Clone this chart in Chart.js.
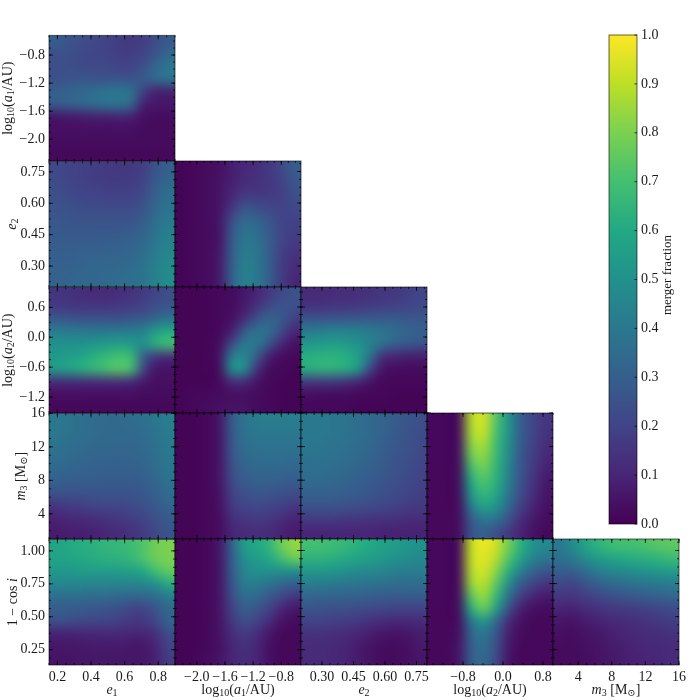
<!DOCTYPE html>
<html>
<head>
<meta charset="utf-8">
<style>
  html, body { margin: 0; padding: 0; background: #fff; }
  #fig { position: relative; width: 700px; height: 700px; overflow: hidden; }
  #fig canvas { position: absolute; }
</style>
<script src="https://cdn.jsdelivr.net/npm/chart.js@4/dist/chart.umd.min.js"></script>
</head>
<body>
<div id="fig"></div>
<script>
// tick values and labels for every parameter
const ticksE1 = [0.2, 0.4, 0.6, 0.8];
const labelsE1 = ['0.2', '0.4', '0.6', '0.8'];
const ticksA1 = [-2.0, -1.6, -1.2, -0.8];
const labelsA1 = ['−2.0', '−1.6', '−1.2', '−0.8'];
const ticksE2 = [0.30, 0.45, 0.60, 0.75];
const labelsE2 = ['0.30', '0.45', '0.60', '0.75'];
const ticksA2x = [-0.8, 0.0, 0.8];
const labelsA2x = ['−0.8', '0.0', '0.8'];
const ticksA2y = [-1.2, -0.6, 0.0, 0.6];
const labelsA2y = ['−1.2', '−0.6', '0.0', '0.6'];
const ticksM3 = [4, 8, 12, 16];
const labelsM3 = ['4', '8', '12', '16'];
const ticksCos = [0.25, 0.50, 0.75, 1.00];
const labelsCos = ['0.25', '0.50', '0.75', '1.00'];
const ticksBar = [0, 0.1, 0.2, 0.3, 0.4, 0.5, 0.6, 0.7, 0.8, 0.9, 1.0];
const labelsBar = ['0.0', '0.1', '0.2', '0.3', '0.4', '0.5', '0.6', '0.7', '0.8', '0.9', '1.0'];

// merger fraction per panel, rows go top to bottom, named y_x
const a1_e1 = [
  [.30,.26,.24,.22,.20,.18,.16,.18,.24,.28],
  [.24,.24,.22,.20,.20,.18,.18,.20,.26,.33],
  [.24,.24,.23,.22,.22,.20,.20,.24,.34,.40],
  [.24,.25,.26,.26,.26,.26,.26,.28,.34,.38],
  [.30,.32,.34,.36,.38,.40,.38,.18,.08,.08],
  [.28,.30,.32,.35,.37,.38,.34,.08,.06,.06],
  [.05,.06,.07,.08,.08,.09,.08,.04,.03,.03],
  [.04,.04,.04,.04,.04,.04,.04,.03,.03,.03],
  [.03,.03,.03,.03,.03,.03,.03,.03,.03,.03],
  [.02,.02,.02,.02,.02,.02,.02,.02,.02,.02]
];
const e2_e1 = [
  [.22,.20,.19,.18,.17,.16,.16,.18,.26,.30],
  [.23,.20,.19,.18,.17,.17,.17,.20,.28,.33],
  [.24,.22,.20,.20,.19,.19,.19,.22,.31,.36],
  [.25,.24,.23,.22,.22,.21,.22,.25,.33,.38],
  [.27,.26,.25,.25,.25,.25,.25,.28,.36,.40],
  [.28,.27,.27,.27,.27,.27,.28,.31,.38,.43],
  [.29,.29,.29,.29,.30,.30,.31,.34,.40,.44],
  [.30,.30,.31,.31,.32,.32,.33,.36,.42,.46],
  [.31,.31,.32,.33,.33,.34,.35,.38,.43,.48],
  [.31,.32,.33,.33,.34,.35,.36,.38,.44,.48]
];
const e2_a1 = [
  [.01,.02,.03,.04,.08,.11,.13,.16,.22,.30],
  [.01,.02,.03,.05,.08,.12,.14,.16,.20,.27],
  [.01,.02,.03,.05,.10,.15,.15,.16,.19,.25],
  [.01,.02,.03,.05,.14,.24,.22,.20,.19,.22],
  [.01,.02,.03,.05,.22,.33,.30,.25,.20,.20],
  [.01,.02,.03,.05,.26,.38,.35,.28,.20,.18],
  [.01,.02,.03,.05,.28,.40,.38,.29,.20,.16],
  [.01,.02,.03,.06,.29,.42,.39,.29,.18,.14],
  [.01,.02,.03,.06,.30,.43,.40,.29,.17,.12],
  [.01,.02,.03,.06,.30,.43,.40,.29,.17,.10]
];
const a2_e1 = [
  [.15,.14,.13,.12,.12,.13,.14,.17,.20,.24],
  [.17,.16,.15,.15,.15,.16,.17,.20,.24,.26],
  [.27,.26,.25,.25,.25,.25,.26,.28,.33,.38],
  [.42,.41,.41,.40,.40,.41,.42,.44,.55,.60],
  [.50,.50,.50,.52,.54,.56,.54,.50,.64,.70],
  [.52,.55,.58,.62,.66,.70,.68,.28,.15,.12],
  [.55,.58,.62,.66,.70,.74,.70,.20,.05,.05],
  [.12,.12,.12,.12,.12,.12,.11,.06,.04,.04],
  [.04,.04,.04,.04,.04,.04,.04,.03,.03,.03],
  [.02,.02,.02,.02,.02,.02,.02,.02,.02,.02]
];
const a2_a1 = [
  [.01,.01,.01,.02,.03,.06,.10,.16,.22,.25],
  [.01,.01,.01,.02,.03,.07,.14,.22,.26,.24],
  [.01,.01,.01,.02,.04,.12,.24,.32,.28,.18],
  [.01,.01,.01,.02,.08,.28,.38,.36,.22,.10],
  [.01,.01,.01,.03,.22,.40,.40,.25,.10,.04],
  [.01,.01,.01,.04,.42,.46,.28,.08,.03,.02],
  [.01,.01,.01,.03,.50,.50,.14,.03,.02,.01],
  [.01,.01,.01,.02,.12,.12,.05,.02,.01,.01],
  [.01,.02,.02,.03,.04,.04,.03,.02,.01,.01],
  [.01,.02,.03,.04,.05,.05,.03,.02,.01,.01]
];
const a2_e2 = [
  [.12,.12,.12,.13,.13,.14,.15,.16,.18,.21],
  [.14,.14,.15,.15,.16,.17,.18,.19,.20,.22],
  [.26,.26,.26,.27,.27,.28,.28,.28,.27,.27],
  [.40,.42,.44,.44,.43,.41,.38,.35,.32,.30],
  [.52,.54,.55,.54,.50,.44,.38,.30,.28,.26],
  [.62,.64,.64,.62,.56,.38,.12,.10,.08,.08],
  [.62,.64,.64,.62,.54,.20,.05,.03,.03,.03],
  [.16,.16,.16,.14,.10,.05,.02,.02,.02,.02],
  [.04,.03,.03,.03,.02,.02,.02,.01,.01,.01],
  [.02,.02,.02,.02,.01,.01,.01,.01,.01,.01]
];
const m3_e1 = [
  [.40,.38,.36,.35,.34,.34,.35,.36,.40,.42],
  [.40,.38,.36,.35,.34,.34,.34,.35,.38,.42],
  [.38,.36,.35,.34,.33,.33,.33,.34,.37,.41],
  [.36,.35,.33,.32,.32,.32,.32,.33,.36,.40],
  [.33,.32,.31,.31,.30,.30,.30,.31,.35,.39],
  [.30,.29,.29,.28,.28,.28,.28,.29,.32,.37],
  [.24,.24,.24,.25,.25,.25,.25,.27,.30,.35],
  [.14,.16,.17,.19,.20,.20,.21,.24,.27,.31],
  [.09,.10,.11,.12,.14,.15,.17,.20,.24,.28],
  [.07,.08,.08,.09,.10,.12,.14,.17,.22,.26]
];
const m3_a1 = [
  [.01,.01,.02,.05,.28,.38,.42,.42,.42,.42],
  [.01,.01,.02,.05,.28,.37,.40,.40,.40,.40],
  [.01,.01,.02,.05,.27,.36,.38,.38,.38,.38],
  [.01,.01,.02,.05,.26,.34,.35,.36,.36,.35],
  [.01,.01,.02,.05,.24,.31,.33,.33,.33,.32],
  [.01,.01,.02,.05,.22,.28,.30,.30,.29,.28],
  [.01,.01,.02,.04,.19,.24,.26,.25,.24,.22],
  [.01,.01,.02,.04,.16,.20,.21,.20,.18,.15],
  [.01,.01,.02,.03,.12,.15,.16,.15,.12,.09],
  [.01,.01,.02,.03,.10,.12,.13,.12,.09,.07]
];
const m3_e2 = [
  [.40,.40,.39,.38,.36,.34,.31,.29,.26,.24],
  [.40,.40,.39,.38,.36,.34,.31,.28,.25,.23],
  [.39,.39,.38,.37,.35,.33,.30,.27,.25,.22],
  [.38,.38,.37,.36,.34,.32,.29,.26,.24,.21],
  [.36,.36,.35,.34,.32,.30,.28,.25,.23,.20],
  [.34,.34,.33,.32,.30,.28,.26,.24,.22,.19],
  [.30,.30,.30,.29,.28,.26,.24,.22,.20,.18],
  [.25,.25,.25,.24,.23,.22,.20,.19,.17,.16],
  [.16,.16,.16,.15,.15,.14,.14,.13,.12,.12],
  [.10,.10,.10,.10,.10,.10,.09,.09,.09,.09]
];
const m3_a2 = [
  [.02,.02,.03,.88,.94,.72,.50,.28,.20,.15],
  [.02,.02,.03,.86,.92,.70,.50,.28,.20,.14],
  [.02,.02,.03,.82,.87,.68,.48,.27,.19,.12],
  [.02,.02,.03,.76,.83,.66,.46,.26,.17,.10],
  [.02,.02,.03,.68,.78,.64,.44,.25,.16,.08],
  [.02,.02,.03,.60,.72,.62,.42,.24,.14,.06],
  [.02,.02,.03,.52,.66,.58,.38,.22,.12,.05],
  [.02,.02,.03,.40,.56,.50,.32,.18,.09,.04],
  [.02,.02,.03,.28,.38,.36,.24,.12,.06,.03],
  [.02,.02,.03,.26,.30,.24,.16,.09,.04,.02]
];
const cos_e1 = [
  [.58,.60,.62,.63,.65,.66,.68,.72,.78,.80],
  [.58,.58,.60,.62,.63,.64,.66,.72,.78,.80],
  [.53,.53,.54,.55,.55,.55,.56,.60,.70,.76],
  [.47,.46,.46,.45,.45,.45,.45,.46,.50,.62],
  [.36,.36,.36,.35,.35,.34,.33,.33,.36,.42],
  [.29,.29,.28,.27,.26,.24,.20,.20,.26,.34],
  [.25,.24,.22,.21,.20,.19,.16,.16,.22,.32],
  [.09,.09,.10,.10,.11,.11,.10,.10,.14,.24],
  [.06,.06,.06,.07,.07,.07,.06,.06,.10,.20],
  [.05,.05,.06,.06,.06,.06,.06,.06,.09,.18]
];
const cos_a1 = [
  [.01,.01,.02,.05,.30,.55,.60,.65,.78,.84],
  [.01,.01,.02,.05,.29,.50,.55,.60,.70,.78],
  [.01,.01,.02,.05,.28,.46,.50,.50,.50,.50],
  [.01,.01,.02,.05,.26,.42,.42,.38,.34,.30],
  [.01,.01,.02,.05,.23,.36,.34,.28,.22,.16],
  [.01,.01,.02,.05,.19,.30,.26,.20,.10,.06],
  [.01,.01,.02,.05,.16,.24,.20,.12,.05,.03],
  [.01,.01,.02,.05,.12,.17,.13,.06,.02,.02],
  [.01,.01,.02,.04,.10,.14,.10,.04,.02,.02],
  [.01,.01,.03,.05,.10,.13,.10,.04,.02,.02]
];
const cos_e2 = [
  [.70,.70,.68,.66,.63,.60,.57,.55,.52,.50],
  [.64,.64,.63,.61,.58,.56,.53,.50,.48,.47],
  [.53,.53,.52,.50,.48,.47,.45,.43,.42,.42],
  [.42,.42,.41,.40,.39,.38,.37,.36,.36,.36],
  [.33,.32,.32,.31,.31,.30,.29,.28,.28,.28],
  [.26,.25,.24,.24,.23,.22,.21,.20,.20,.20],
  [.20,.20,.19,.18,.16,.14,.12,.11,.11,.12],
  [.14,.14,.13,.12,.10,.08,.06,.05,.06,.08],
  [.12,.12,.11,.10,.07,.05,.03,.03,.04,.07],
  [.12,.12,.11,.10,.07,.05,.03,.03,.04,.06]
];
const cos_a2 = [
  [.02,.02,.03,.90,.98,.92,.78,.62,.50,.46],
  [.02,.02,.03,.90,.96,.88,.72,.56,.44,.40],
  [.02,.02,.03,.88,.94,.82,.62,.42,.32,.26],
  [.02,.02,.03,.84,.90,.74,.48,.28,.20,.15],
  [.02,.02,.03,.74,.85,.66,.36,.18,.10,.07],
  [.02,.02,.03,.62,.78,.55,.24,.08,.04,.03],
  [.02,.02,.03,.40,.52,.34,.12,.04,.02,.02],
  [.02,.02,.04,.32,.40,.26,.08,.03,.02,.02],
  [.02,.02,.05,.30,.36,.24,.06,.02,.02,.02],
  [.02,.02,.05,.30,.34,.22,.05,.02,.02,.02]
];
const cos_m3 = [
  [.40,.48,.58,.64,.68,.70,.70,.72,.74,.75],
  [.36,.40,.48,.54,.58,.60,.62,.63,.65,.68],
  [.30,.30,.36,.42,.46,.48,.50,.52,.54,.55],
  [.22,.20,.26,.30,.34,.36,.38,.39,.41,.42],
  [.16,.15,.18,.21,.24,.26,.28,.30,.31,.33],
  [.10,.09,.12,.14,.16,.17,.18,.19,.21,.23],
  [.06,.05,.07,.09,.11,.12,.13,.15,.16,.18],
  [.04,.03,.05,.06,.08,.10,.11,.12,.13,.14],
  [.03,.03,.04,.05,.07,.08,.10,.11,.11,.12],
  [.03,.03,.03,.05,.06,.08,.09,.10,.11,.12]
];

const SERIF = '"Liberation Serif", "DejaVu Serif", serif';
const viridis = ['#440154', '#482576', '#414487', '#355f8d', '#2a788e', '#21918c', '#22a884', '#44bf70', '#7ad151', '#bddf26', '#fde725'];

// axis ranges and labels. title is a list of [text, style], i = italic, s = subscript
const axE1 = { min: 0.15, max: 0.9, ticks: ticksE1, labels: labelsE1, minor: 4, titleX: 12, title: [['e', 'i'], ['1', 's']] };
const axA1 = { min: -2.31, max: -0.52, ticks: ticksA1, labels: labelsA1, minor: 4, titleX: 8, title: [['log', ''], ['10', 's'], ['(', ''], ['a', 'i'], ['1', 's'], ['/AU)', '']] };
const axE2 = { min: 0.2, max: 0.8, ticks: ticksE2, labels: labelsE2, minor: 4, titleX: 12, title: [['e', 'i'], ['2', 's']] };
const axA2x = { min: -1.52, max: 1.0, ticks: ticksA2x, labels: labelsA2x, minor: 4, title: [['log', ''], ['10', 's'], ['(', ''], ['a', 'i'], ['2', 's'], ['/AU)', '']] };
const axA2y = { min: -1.52, max: 1.0, ticks: ticksA2y, labels: labelsA2y, minor: 4, titleX: 8, title: axA2x.title };
const axM3 = { min: 1, max: 16, ticks: ticksM3, labels: labelsM3, minor: 4, titleX: 21, title: [['m', 'i'], ['3', 's'], [' [M', ''], ['⊙', 's'], [']', '']] };
const axCos = { min: 0.134, max: 1.087, ticks: ticksCos, labels: labelsCos, minor: 4, titleX: 13, title: [['1 − cos ', ''], ['i', 'i']] };

const panels = [
  { row: 0, col: 0, x: axE1, y: axA1, grid: a1_e1 },
  { row: 1, col: 0, x: axE1, y: axE2, grid: e2_e1 },
  { row: 1, col: 1, x: axA1, y: axE2, grid: e2_a1 },
  { row: 2, col: 0, x: axE1, y: axA2y, grid: a2_e1 },
  { row: 2, col: 1, x: axA1, y: axA2y, grid: a2_a1 },
  { row: 2, col: 2, x: axE2, y: axA2y, grid: a2_e2 },
  { row: 3, col: 0, x: axE1, y: axM3, grid: m3_e1 },
  { row: 3, col: 1, x: axA1, y: axM3, grid: m3_a1 },
  { row: 3, col: 2, x: axE2, y: axM3, grid: m3_e2 },
  { row: 3, col: 3, x: axA2x, y: axM3, grid: m3_a2 },
  { row: 4, col: 0, x: axE1, y: axCos, grid: cos_e1 },
  { row: 4, col: 1, x: axA1, y: axCos, grid: cos_a1 },
  { row: 4, col: 2, x: axE2, y: axCos, grid: cos_e2 },
  { row: 4, col: 3, x: axA2x, y: axCos, grid: cos_a2 },
  { row: 4, col: 4, x: axM3, y: axCos, grid: cos_m3 }
];

const PANEL = 126, LEFT = 49, TOP = 35;
const mL = 49, mT = 12, mR = 21, mB = 35;

function hexRgb(h) {
  return [1, 3, 5].map(i => parseInt(h.substr(i, 2), 16));
}

function colorFor(v) {
  const t = Math.max(0, Math.min(1, v)) * (viridis.length - 1);
  const i = Math.min(Math.floor(t), viridis.length - 2);
  const a = hexRgb(viridis[i]), b = hexRgb(viridis[i + 1]);
  return a.map((c, k) => Math.round(c + (b[k] - c) * (t - i)));
}

// cell centres in data units, one point per value
function cellsFrom(grid, xa, ya) {
  const out = [];
  const nr = grid.length, nc = grid[0].length;
  for (let r = 0; r < nr; r++) {
    for (let c = 0; c < nc; c++) {
      out.push({
        x: xa.min + (c + 0.5) * (xa.max - xa.min) / nc,
        y: ya.max - (r + 0.5) * (ya.max - ya.min) / nr,
        v: grid[r][c], r: r, c: c
      });
    }
  }
  return out;
}

// imshow style: small image of the cells, stretched and smoothed over the scale range.
// the nearest cell is repeated round the edge so the blur does not fade at the frame
const heatLayer = {
  id: 'heatLayer',
  beforeDatasetsDraw(chart) {
    const pts = chart.data.datasets[0].data;
    const nc = Math.max(...pts.map(p => p.c)) + 1, nr = Math.max(...pts.map(p => p.r)) + 1;
    const off = document.createElement('canvas');
    off.width = nc + 2; off.height = nr + 2;
    const oc = off.getContext('2d');
    const img = oc.createImageData(nc + 2, nr + 2);
    for (let r = -1; r <= nr; r++) {
      for (let c = -1; c <= nc; c++) {
        const cr = Math.max(0, Math.min(nr - 1, r)), cc = Math.max(0, Math.min(nc - 1, c));
        const rgb = colorFor(pts[cr * nc + cc].v);
        const k = ((r + 1) * (nc + 2) + c + 1) * 4;
        img.data[k] = rgb[0]; img.data[k + 1] = rgb[1]; img.data[k + 2] = rgb[2]; img.data[k + 3] = 255;
      }
    }
    oc.putImageData(img, 0, 0);
    const sx = chart.scales.x, sy = chart.scales.y;
    const x0 = sx.getPixelForValue(sx.min), x1 = sx.getPixelForValue(sx.max);
    const y0 = sy.getPixelForValue(sy.max), y1 = sy.getPixelForValue(sy.min);
    const cw = (x1 - x0) / nc, ch = (y1 - y0) / nr;
    const ctx = chart.ctx;
    ctx.save();
    ctx.beginPath();
    ctx.rect(x0, y0, x1 - x0, y1 - y0);
    ctx.clip();
    ctx.imageSmoothingEnabled = true;
    ctx.imageSmoothingQuality = 'high';
    ctx.filter = 'blur(3.5px)';
    ctx.drawImage(off, x0 - cw, y0 - ch, x1 - x0 + 2 * cw, y1 - y0 + 2 * ch);
    ctx.restore();
  }
};

function minorValues(ax) {
  const step = (ax.ticks[1] - ax.ticks[0]) / ax.minor;
  const out = [];
  const start = ax.ticks[0] - step * Math.floor((ax.ticks[0] - ax.min) / step);
  for (let v = start; v <= ax.max + 1e-9; v += step) out.push(v);
  return out;
}

// spines and inward ticks on all four sides
const frameLayer = {
  id: 'frameLayer',
  afterDatasetsDraw(chart) {
    const a = chart.chartArea, ctx = chart.ctx;
    const p = chart.options.plugins.frameLayer;
    const sx = chart.scales.x, sy = chart.scales.y;
    ctx.save();
    ctx.strokeStyle = 'rgba(0,0,0,0.9)';
    ctx.lineWidth = 0.8;
    ctx.beginPath();
    function mark(px, vertical, len) {
      if (vertical) {
        ctx.moveTo(px, a.top); ctx.lineTo(px, a.top + len);
        ctx.moveTo(px, a.bottom); ctx.lineTo(px, a.bottom - len);
      } else {
        ctx.moveTo(a.left, px); ctx.lineTo(a.left + len, px);
        ctx.moveTo(a.right, px); ctx.lineTo(a.right - len, px);
      }
    }
    minorValues(p.x).forEach(v => mark(sx.getPixelForValue(v), true, 2));
    minorValues(p.y).forEach(v => mark(sy.getPixelForValue(v), false, 2));
    p.x.ticks.forEach(v => mark(sx.getPixelForValue(v), true, 4));
    p.y.ticks.forEach(v => mark(sy.getPixelForValue(v), false, 4));
    ctx.stroke();
    ctx.strokeStyle = 'rgba(0,0,0,0.6)';
    ctx.lineWidth = 1;
    ctx.strokeRect(a.left, a.top, a.right - a.left, a.bottom - a.top);
    ctx.restore();
  }
};

function fontFor(style, size) {
  if (style === 'i') return 'italic ' + size + 'px ' + SERIF;
  if (style === 's') return Math.round(size * 0.7) + 'px ' + SERIF;
  return size + 'px ' + SERIF;
}

function runWidth(ctx, runs, size) {
  let w = 0;
  runs.forEach(r => {
    ctx.font = fontFor(r[1], size);
    w += ctx.measureText(r[0]).width;
  });
  return w;
}

// mixed roman, italic and subscript text, centred on the origin
function drawRuns(ctx, runs, size) {
  let x = -runWidth(ctx, runs, size) / 2;
  ctx.textAlign = 'left';
  ctx.textBaseline = 'middle';
  ctx.fillStyle = '#1a1a1a';
  runs.forEach(r => {
    ctx.font = fontFor(r[1], size);
    ctx.fillText(r[0], x, r[1] === 's' ? 3 : 0);
    x += ctx.measureText(r[0]).width;
  });
}

const titleLayer = {
  id: 'titleLayer',
  afterDraw(chart) {
    const p = chart.options.plugins.titleLayer;
    const a = chart.chartArea, ctx = chart.ctx;
    if (p.xTitle) {
      ctx.save();
      ctx.translate((a.left + a.right) / 2, a.bottom + 25);
      drawRuns(ctx, p.xTitle, 14);
      ctx.restore();
    }
    if (p.yTitle) {
      ctx.save();
      ctx.translate(p.yTitleX, (a.top + a.bottom) / 2);
      ctx.rotate(-Math.PI / 2);
      drawRuns(ctx, p.yTitle, 14);
      ctx.restore();
    }
  }
};

const fig = document.getElementById('fig');

function addCanvas(left, top, w, h) {
  const c = document.createElement('canvas');
  c.width = w; c.height = h;
  c.style.left = left + 'px';
  c.style.top = top + 'px';
  c.style.width = w + 'px';
  c.style.height = h + 'px';
  fig.appendChild(c);
  return c;
}

function scaleFor(ax, showLabels, position, size) {
  return {
    type: 'linear',
    position: position,
    min: ax.min,
    max: ax.max,
    grid: { display: false, drawTicks: false },
    border: { display: false },
    afterBuildTicks(scale) { scale.ticks = ax.ticks.map(v => ({ value: v })); },
    afterFit(scale) {
      if (position === 'left') scale.width = size; else scale.height = size;
    },
    ticks: {
      display: showLabels,
      autoSkip: false,
      maxRotation: 0,
      padding: 4,
      color: '#1a1a1a',
      font: { family: SERIF, size: 14 },
      callback(v) {
        const i = ax.ticks.findIndex(t => Math.abs(t - v) < 1e-6);
        return i < 0 ? '' : ax.labels[i];
      }
    }
  };
}

panels.forEach(p => {
  const px = LEFT + p.col * PANEL, py = TOP + p.row * PANEL;
  const c = addCanvas(px - mL, py - mT, PANEL + mL + mR, PANEL + mT + mB);
  new Chart(c, {
    type: 'scatter',
    data: { datasets: [{ data: cellsFrom(p.grid, p.x, p.y), pointRadius: 0 }] },
    options: {
      responsive: false,
      animation: false,
      events: [],
      layout: { padding: { top: mT, right: mR, left: 0, bottom: 0 } },
      scales: {
        x: scaleFor(p.x, p.row === 4, 'bottom', mB),
        y: scaleFor(p.y, p.col === 0, 'left', mL)
      },
      plugins: {
        legend: { display: false },
        tooltip: { enabled: false },
        frameLayer: { x: p.x, y: p.y },
        titleLayer: {
          xTitle: p.row === 4 ? p.x.title : null,
          yTitle: p.col === 0 ? p.y.title : null,
          yTitleX: p.y.titleX
        }
      }
    },
    plugins: [heatLayer, frameLayer, titleLayer]
  });
});

// colour bar: one floating bar from 0 to 1 filled with the colour map
const barCanvas = addCanvas(599, 13, 101, 541);
new Chart(barCanvas, {
  type: 'bar',
  data: {
    labels: ['merger fraction'],
    datasets: [{
      data: [[0, 1]],
      barPercentage: 1,
      categoryPercentage: 1,
      backgroundColor(ctx) {
        const chart = ctx.chart;
        if (!chart.chartArea) return viridis[0];
        const sy = chart.scales.y;
        const g = chart.ctx.createLinearGradient(0, sy.getPixelForValue(0), 0, sy.getPixelForValue(1));
        viridis.forEach((col, i) => g.addColorStop(i / (viridis.length - 1), col));
        return g;
      }
    }]
  },
  options: {
    responsive: false,
    animation: false,
    events: [],
    layout: { padding: { top: 22, left: 10, bottom: 30, right: 0 } },
    scales: {
      x: { display: false },
      y: {
        position: 'right',
        min: 0,
        max: 1,
        grid: { display: false, drawTicks: false },
        border: { display: false },
        afterBuildTicks(scale) { scale.ticks = ticksBar.map(v => ({ value: v })); },
        afterFit(scale) { scale.width = 63; },
        ticks: {
          autoSkip: false,
          padding: 4,
          color: '#1a1a1a',
          font: { family: SERIF, size: 14 },
          callback(v) { return labelsBar[Math.round(v * 10)]; }
        }
      }
    },
    plugins: { legend: { display: false }, tooltip: { enabled: false } }
  },
  plugins: [{
    id: 'barFrame',
    afterDraw(chart) {
      const a = chart.chartArea, ctx = chart.ctx, sy = chart.scales.y;
      ctx.save();
      ctx.strokeStyle = 'rgba(0,0,0,0.6)';
      ctx.lineWidth = 1;
      ctx.strokeRect(a.left, a.top, a.right - a.left, a.bottom - a.top);
      ctx.strokeStyle = 'rgba(0,0,0,0.9)';
      ctx.lineWidth = 0.8;
      ctx.beginPath();
      ticksBar.forEach(v => {
        const y = sy.getPixelForValue(v);
        ctx.moveTo(a.right, y); ctx.lineTo(a.right - 2.5, y);
      });
      ctx.stroke();
      ctx.translate(a.right + 31, 262);
      ctx.rotate(-Math.PI / 2);
      ctx.font = '13px ' + SERIF;
      ctx.textAlign = 'center';
      ctx.textBaseline = 'middle';
      ctx.fillStyle = '#1a1a1a';
      ctx.fillText('merger fraction', 0, 0);
      ctx.restore();
    }
  }]
});
</script>
</body>
</html>
